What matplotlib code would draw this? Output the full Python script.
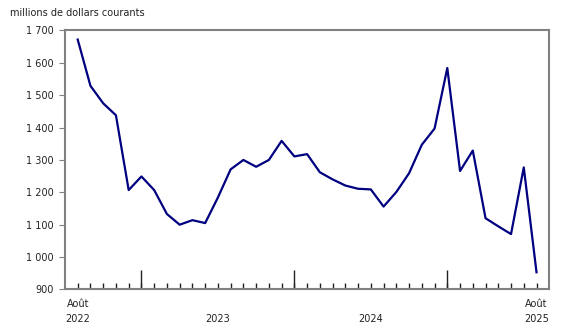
import numpy as np
import matplotlib.pyplot as plt

# valeurs mensuelles, août 2022 à août 2025 (millions de dollars courants)
months = ["2022-08", "2022-09", "2022-10", "2022-11", "2022-12",
          "2023-01", "2023-02", "2023-03", "2023-04", "2023-05", "2023-06",
          "2023-07", "2023-08", "2023-09", "2023-10", "2023-11", "2023-12",
          "2024-01", "2024-02", "2024-03", "2024-04", "2024-05", "2024-06",
          "2024-07", "2024-08", "2024-09", "2024-10", "2024-11", "2024-12",
          "2025-01", "2025-02", "2025-03", "2025-04", "2025-05", "2025-06",
          "2025-07", "2025-08"]
values = [1672, 1529, 1475, 1438, 1207,
          1249, 1207, 1133, 1100, 1114, 1105,
          1184, 1271, 1300, 1279, 1300, 1359,
          1311, 1318, 1262, 1240, 1221, 1211,
          1209, 1156, 1201, 1259, 1347, 1397,
          1584, 1266, 1329, 1120, 1095, 1071,
          1277, 953]

yticks = [900, 1000, 1100, 1200, 1300, 1400, 1500, 1600, 1700]
ytick_labels = ["900", "1 000", "1 100", "1 200", "1 300", "1 400",
                "1 500", "1 600", "1 700"]
year_starts = [m for m, s in enumerate(months) if s.endswith("-01")]
xlabel_pos = [0, 11, 23, 36]
xlabel_text = ["Août\n2022", "\n2023", "\n2024", "Août\n2025"]

plt.rcParams['font.family'] = ['DejaVu Sans']
fig = plt.figure(figsize=(5.8, 3.35), dpi=100)
ax = fig.add_axes([0.112, 0.136, 0.835, 0.773])

x = np.arange(len(values))
ax.plot(x, values, color='#000080', linewidth=1.6)

ax.set_xlim(-1, 37)
ax.set_ylim(900, 1700)

ax.set_yticks(yticks)
ax.set_yticklabels(ytick_labels)
ax.tick_params(axis='y', direction='out', length=4, color='#808080',
               labelsize=7, labelcolor='#222222', pad=4)

ax.xaxis.remove_overlapping_locs = False
ax.set_xticks(x)
ax.set_xticklabels([xlabel_text[xlabel_pos.index(i)] if i in xlabel_pos else ""
                    for i in x], linespacing=1.6)
ax.set_xticks(year_starts, minor=True)
ax.tick_params(axis='x', which='major', direction='in', length=4, width=1,
               color='#222222', labelsize=7, labelcolor='#222222', pad=7)
ax.tick_params(axis='x', which='minor', direction='in', length=14, width=1,
               color='#222222')

for sp in ax.spines.values():
    sp.set_color('#808080')
    sp.set_linewidth(1.5)

fig.text(0.017, 0.975, "millions de dollars courants", fontsize=7,
         color='#222222', ha='left', va='top')

fig.savefig("out.png", dpi=100)
